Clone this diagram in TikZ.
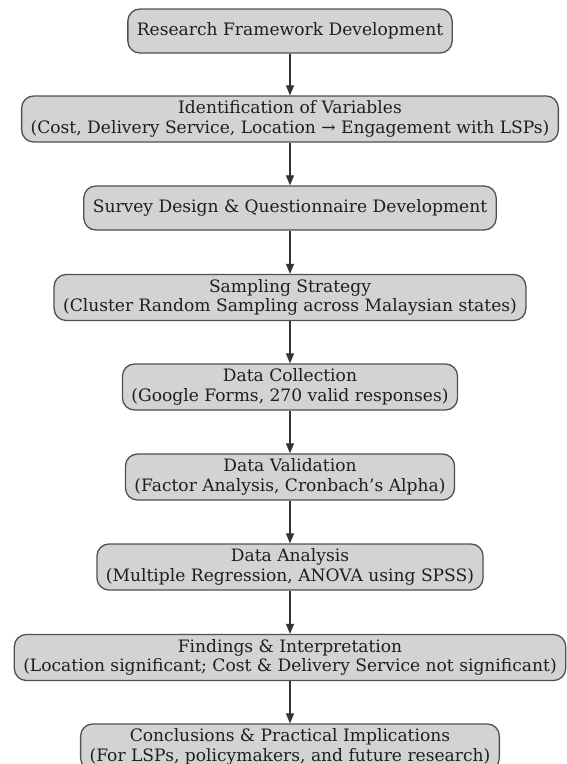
\documentclass[tikz,border=0pt]{standalone}
\usepackage{fontspec}
\setmainfont{DejaVu Serif}
\usetikzlibrary{arrows.meta}
\definecolor{boxfill}{HTML}{D3D3D3}
\definecolor{boxline}{HTML}{505050}
\definecolor{txt}{HTML}{1E1E1E}
\definecolor{arr}{HTML}{333333}
\tikzset{
  stepbox/.style={draw=boxline, line width=1.3pt, fill=boxfill, rounded corners=12pt,
    align=center, inner xsep=9pt, inner ysep=0pt, text=txt,
    font=\fontsize{17.1pt}{19.4pt}\selectfont},
  one/.style={stepbox, minimum height=44pt},
  two/.style={stepbox, minimum height=46pt},
  flow/.style={draw=arr, line width=1.2pt, -{Triangle[length=10pt,width=8pt]}}
}
\begin{document}
\begin{tikzpicture}[x=1pt,y=-1pt]
\useasboundingbox (0,0) rectangle (567,764);
\node[one] (n1) at (290,31) {Research Framework Development};
\node[two] (n2) at (290,119) {Identification of Variables\\(Cost, Delivery Service, Location → Engagement with LSPs)};
\node[one] (n3) at (290,208) {Survey Design \& Questionnaire Development};
\node[two] (n4) at (290,297.5) {Sampling Strategy\\(Cluster Random Sampling across Malaysian states)};
\node[two] (n5) at (290,387) {Data Collection\\(Google Forms, 270 valid responses)};
\node[two] (n6) at (290,477) {Data Validation\\(Factor Analysis, Cronbach’s Alpha)};
\node[two] (n7) at (290,567) {Data Analysis\\(Multiple Regression, ANOVA using SPSS)};
\node[two] (n8) at (290,657.5) {Findings \& Interpretation\\(Location significant; Cost \& Delivery Service not significant)};
\node[two] (n9) at (290,747) {Conclusions \& Practical Implications\\(For LSPs, policymakers, and future research)};
\foreach \a/\b in {n1/n2,n2/n3,n3/n4,n4/n5,n5/n6,n6/n7,n7/n8,n8/n9}
  \draw[flow] (\a.south) -- (\b.north);
\end{tikzpicture}
\end{document}
